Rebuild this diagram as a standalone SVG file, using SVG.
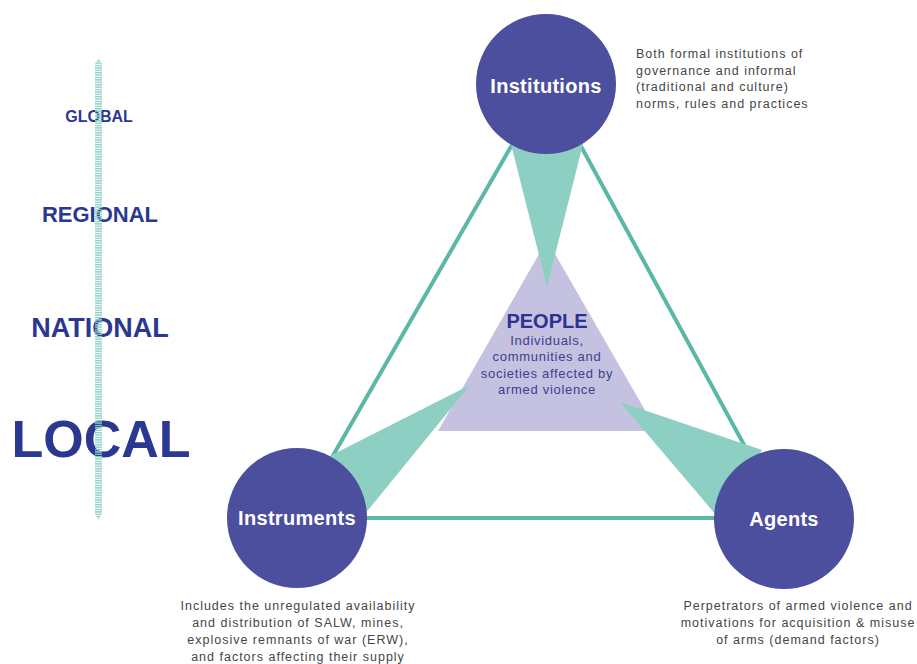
<svg xmlns="http://www.w3.org/2000/svg" width="917" height="664" viewBox="0 0 917 664">
  <defs>
    <pattern id="stripes" x="0" y="0" width="8" height="2.4" patternUnits="userSpaceOnUse">
      <rect x="0" y="0" width="8" height="1.4" fill="#8fd0c6"/>
    </pattern>
  </defs>
  <style>
    .scale { font-family: "Liberation Sans", Arial, sans-serif; font-weight: bold; fill: #2b3892; text-anchor: middle; }
    .node circle { fill: #4c4e9e; }
    .node text { font-family: "Liberation Sans", Arial, sans-serif; font-weight: bold; font-size: 20px; fill: #ffffff; text-anchor: middle; letter-spacing: 0.3px; }
    .desc { font-family: "Liberation Sans", Arial, sans-serif; font-size: 12.5px; fill: #454545; letter-spacing: 1px; }
    .edge { stroke: #5bb8a6; stroke-width: 4; fill: none; }
    .wedge { fill: #8ecfc3; }
    .people-sub { font-family: "Liberation Sans", Arial, sans-serif; font-size: 13px; fill: #3d3f8f; text-anchor: middle; letter-spacing: 0.7px; }
  </style>
  <rect width="917" height="664" fill="#ffffff"/>

  <!-- Scale bar and levels -->
  <g id="scale">
    <text class="scale" x="99" y="122" font-size="16">GLOBAL</text>
    <text class="scale" x="100" y="222" font-size="22">REGIONAL</text>
    <text class="scale" x="100" y="337" font-size="27">NATIONAL</text>
    <text class="scale" x="101" y="457" font-size="52">LOCAL</text>
    <path d="M95 64 L98.5 58 L102 64 L102 514 L98.5 520 L95 514 Z" fill="url(#stripes)"/>
  </g>

  <!-- Connectors -->
  <g id="connectors">
    <path class="edge" d="M547 84 L297 518 L784 518 Z"/>
  </g>

  <!-- People -->
  <g id="people">
    <polygon points="547,240 438,431 657,431" fill="#c4c2e0"/>
    <text x="547" y="328" font-family="Liberation Sans, Arial, sans-serif" font-weight="bold" font-size="20" fill="#2e3192" text-anchor="middle">PEOPLE</text>
    <text class="people-sub" x="547" y="345">Individuals,</text>
    <text class="people-sub" x="547" y="361">communities and</text>
    <text class="people-sub" x="547" y="378">societies affected by</text>
    <text class="people-sub" x="547" y="394">armed violence</text>
  </g>

  <!-- Wedges -->
  <g id="wedges">
    <polygon class="wedge" points="547,287 507,128 587,128"/>
    <polygon class="wedge" points="470,385 320,461 360,520"/>
    <polygon class="wedge" points="620,402 762,450 722,522"/>
  </g>

  <!-- Nodes -->
  <g id="institutions" class="node">
    <circle cx="546" cy="84" r="70"/>
    <text x="546" y="93">Institutions</text>
  </g>
  <g id="instruments" class="node">
    <circle cx="297" cy="518" r="70"/>
    <text x="297" y="525">Instruments</text>
  </g>
  <g id="agents" class="node">
    <circle cx="784" cy="519" r="70"/>
    <text x="784" y="526">Agents</text>
  </g>

  <!-- Descriptions -->
  <g id="institutions-desc">
    <text class="desc" x="636" y="58">Both formal institutions of</text>
    <text class="desc" x="636" y="75">governance and informal</text>
    <text class="desc" x="636" y="91">(traditional and culture)</text>
    <text class="desc" x="636" y="108">norms, rules and practices</text>
  </g>
  <g id="instruments-desc" text-anchor="middle">
    <text class="desc" x="298" y="610">Includes the unregulated availability</text>
    <text class="desc" x="298" y="627">and distribution of SALW, mines,</text>
    <text class="desc" x="298" y="644">explosive remnants of war (ERW),</text>
    <text class="desc" x="298" y="661">and factors affecting their supply</text>
  </g>
  <g id="agents-desc" text-anchor="middle">
    <text class="desc" x="798" y="610">Perpetrators of armed violence and</text>
    <text class="desc" x="798" y="627">motivations for acquisition &amp; misuse</text>
    <text class="desc" x="798" y="644">of arms (demand factors)</text>
  </g>
</svg>
